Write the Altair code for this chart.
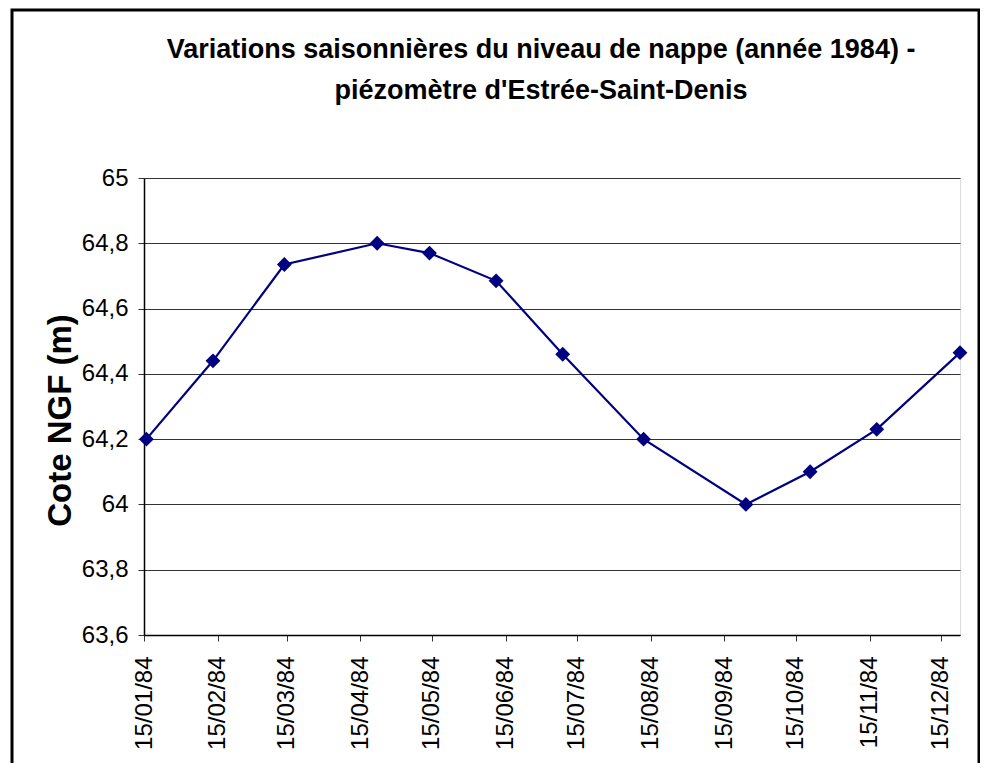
import altair as alt
import pandas as pd

# Data
dates = ["1984-01-16", "1984-02-13", "1984-03-14", "1984-04-22", "1984-05-14",
         "1984-06-11", "1984-07-09", "1984-08-12", "1984-09-24", "1984-10-21",
         "1984-11-18", "1984-12-23"]
levels = [64.20, 64.44, 64.735, 64.80, 64.77, 64.685, 64.46, 64.20, 64.00,
          64.10, 64.23, 64.465]
y_ticks = [63.6, 63.8, 64.0, 64.2, 64.4, 64.6, 64.8, 65.0]
tick_months = list(range(1, 13))

title_lines = ["Variations saisonnières du niveau de nappe (année 1984) -",
               "piézomètre d'Estrée-Saint-Denis"]
y_title = "Cote NGF (m)"

df = pd.DataFrame({"date": dates, "level": levels})

FONT = "Liberation Sans"
NAVY = "#000080"

x_enc = alt.X(
    "date:T",
    scale=alt.Scale(type="utc",
                    domain=[alt.DateTime(year=1984, month=1, date=15, utc=True),
                            alt.DateTime(year=1984, month=12, date=23, utc=True)]),
    axis=alt.Axis(
        values=[alt.DateTime(year=1984, month=m, date=15, utc=True) for m in tick_months],
        labelExpr="utcFormat(datum.value, '%d/%m/%y')",
        labelAngle=270, labelAlign="right", labelBaseline="middle",
        labelFont=FONT, labelFontSize=24, labelColor="black",
        labelPadding=15, tickSize=6, tickColor="#333333",
        domainColor="black", domainWidth=1.5, grid=False, title=None,
        labelOverlap=False,
    ),
)
y_enc = alt.Y(
    "level:Q",
    scale=alt.Scale(domain=[63.6, 65.0], nice=False, zero=False),
    axis=alt.Axis(
        values=y_ticks,
        labelExpr="replace(format(datum.value, '~g'), '.', ',')",
        labelFont=FONT, labelFontSize=24, labelColor="black",
        labelPadding=10, tickSize=6, tickColor="#333333",
        domainColor="black", domainWidth=1.5,
        grid=True, gridColor="#333333", gridWidth=1,
        title=y_title, titleFont=FONT, titleFontSize=33, titleFontWeight="bold",
        titleColor="black", titleAngle=270, titleAlign="center",
        titleBaseline="middle", titleX=-84, titleY=242,
    ),
)

line = alt.Chart(df).mark_line(color=NAVY, strokeWidth=2.2).encode(x=x_enc, y=y_enc)
points = alt.Chart(df).mark_point(shape="diamond", filled=True, size=220,
                                  color=NAVY, opacity=1).encode(x="date:T", y="level:Q")

one = pd.DataFrame({"a": [0]})
border = alt.Chart(one).mark_rect(
    filled=False, stroke="black", strokeWidth=3, clip=False
).encode(x=alt.value(-132), x2=alt.value(835), y=alt.value(-168), y2=alt.value(650))

title1 = alt.Chart(one).mark_text(
    font=FONT, fontSize=27, fontWeight="bold", color="black",
    align="center", baseline="alphabetic", clip=False
).encode(x=alt.value(397), y=alt.value(-120), text=alt.value(title_lines[0]))
title2 = alt.Chart(one).mark_text(
    font=FONT, fontSize=27, fontWeight="bold", color="black",
    align="center", baseline="alphabetic", clip=False
).encode(x=alt.value(397), y=alt.value(-79), text=alt.value(title_lines[1]))

chart = alt.layer(line, points, border, title1, title2).properties(
    width=816, height=457,
    autosize=alt.AutoSizeParams(type="none"),
    padding={"left": 136, "top": 170, "right": 20, "bottom": 128},
).configure_view(stroke="#808080", strokeWidth=2).configure(background="white")

chart.save("out.html", embed_options={"renderer": "svg", "actions": False})
